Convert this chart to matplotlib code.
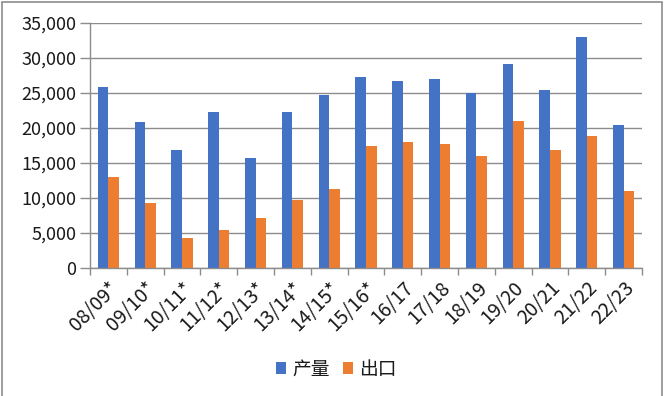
import numpy as np
import matplotlib
matplotlib.use('Agg')
import matplotlib.pyplot as plt
from matplotlib.patches import Rectangle

plt.rcParams['font.family'] = ['Noto Sans CJK SC', 'DejaVu Sans']

seasons = ["08/09*", "09/10*", "10/11*", "11/12*", "12/13*", "13/14*", "14/15*",
           "15/16*", "16/17", "17/18", "18/19", "19/20", "20/21", "21/22", "22/23"]
production = [25800, 20860, 16860, 22290, 15710, 22290, 24710,
              27290, 26710, 27000, 25000, 29140, 25430, 33000, 20430]
exports = [13000, 9290, 4290, 5430, 7140, 9710, 11290,
           17430, 18000, 17710, 16000, 21000, 16860, 18860, 11000]

blue = "#4472C4"
orange = "#ED7D31"
grid_c = "#8C8C8C"
text_c = "#1a1a1a"

fig = plt.figure(figsize=(6.68, 3.96), dpi=100)
ax = fig.add_axes([90/668, 1 - 268/396, 552/668, 245/396])

x = np.arange(len(seasons))
w = 1 / 3.5
ax.bar(x - w/2, production, w, color=blue, label="产量")
ax.bar(x + w/2, exports, w, color=orange, label="出口")

ax.set_xlim(-0.5, len(seasons) - 0.5)
ax.set_ylim(0, 35000)
ax.set_yticks(np.arange(0, 35001, 5000))
ax.set_yticklabels([f"{v:,}" for v in range(0, 35001, 5000)])
ax.yaxis.grid(True, color=grid_c, linewidth=1)
ax.set_axisbelow(True)

for s in ['top', 'right']:
    ax.spines[s].set_visible(False)
for s in ['left', 'bottom']:
    ax.spines[s].set_color(grid_c)
    ax.spines[s].set_linewidth(1)

ax.set_xticks(x)
ax.set_xticklabels(seasons, rotation=45, ha='right', rotation_mode='anchor')
ax.set_xticks(np.arange(-0.5, len(seasons)), minor=True)
ax.tick_params(axis='x', which='major', length=0, pad=7, labelsize=14, colors=text_c)
ax.tick_params(axis='x', which='minor', length=5, color=grid_c, width=1)
ax.tick_params(axis='y', length=7, color=grid_c, width=1, labelsize=13,
               colors=text_c, pad=3)

fig.legend(loc='center', bbox_to_anchor=(336/668, 1 - 369/396), ncol=2,
           frameon=False, fontsize=13.5, handlelength=0.56, handleheight=0.56,
           handletextpad=0.3, columnspacing=0.7, labelcolor=text_c)

fig.patches.append(Rectangle((2/668, -0.05), 660/668, 1.05 - 2/396, transform=fig.transFigure,
                             fill=False, edgecolor=grid_c, linewidth=1.2))

plt.savefig("out.png", dpi=100)
